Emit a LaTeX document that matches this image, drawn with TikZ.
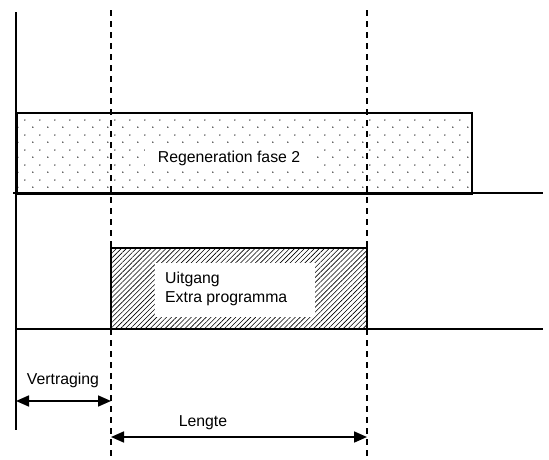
\documentclass[tikz,border=0pt]{standalone}
\usepackage{fontspec}
\setmainfont{Liberation Sans}
\usetikzlibrary{patterns.meta,arrows.meta}

\tikzdeclarepattern{
  name=sparsedots,
  type=uncolored,
  bounding box={(0pt,0pt) and (15pt,15pt)},
  tile size={(15pt,15pt)},
  code={
    \fill (3pt,3pt) circle (0.85pt);
    \fill (10.5pt,10.5pt) circle (0.85pt);
  }
}

\tikzset{
  axis/.style={line width=1.7pt},
  marker/.style={line width=1.3pt, dash pattern=on 6pt off 5pt},
  bar/.style={draw, line width=1.7pt, inner sep=0pt, anchor=north west},
  label/.style={font=\fontsize{15.8}{19}\selectfont, inner sep=2pt},
  span/.style={line width=1.7pt, {Triangle[length=13pt,width=11pt]}-{Triangle[length=13pt,width=11pt]}}
}

\begin{document}
\begin{tikzpicture}[x=1pt,y=-1pt]
        \useasboundingbox (0,0) rectangle (549,459);

        % upper signal
        \node (regen) [bar, pattern={sparsedots}, pattern color=black!80, minimum width=455pt, minimum height=81pt] at (16,112) {};
        \node (regentext) [label, fill=white, minimum width=168pt] at (229,158) {Regeneration fase 2};

        % lower signal
        \node (output) [bar, pattern={Lines[angle=45,distance=3.5pt,line width=0.6pt]}, minimum width=256pt, minimum height=81pt] at (111,248) {};
        \node (outputbox) [fill=white, inner sep=0pt, minimum width=160pt, minimum height=54pt] at (235,290) {};
        \node (outputtext) [label, align=left, anchor=west] at (163,289) {Uitgang\\Extra programma};

        % time markers
        \coordinate (startmark) at (111,10);
        \coordinate (startend) at (111,459);
        \coordinate (stopmark) at (367,10);
        \coordinate (stopend) at (367,459);
        \draw [marker] (startmark) -- (startend);
        \draw [marker] (stopmark) -- (stopend);

        % axes
        \coordinate (axistop) at (16,12);
        \coordinate (axisbottom) at (16,430);
        \coordinate (upperleft) at (13,193);
        \coordinate (upperright) at (543,193);
        \coordinate (lowerleft) at (16,329);
        \coordinate (lowerright) at (543,329);
        \draw [axis] (axistop) -- (axisbottom);
        \draw [axis] (upperleft) -- (upperright);
        \draw [axis] (lowerleft) -- (lowerright);

        % durations
        \coordinate (delaystart) at (16,401);
        \coordinate (delayend) at (111,401);
        \coordinate (lengthstart) at (111,437);
        \coordinate (lengthend) at (367,437);
        \draw [span] (delaystart) -- (delayend);
        \draw [span] (lengthstart) -- (lengthend);
        \node (delaytext) [label] at (63,380) {Vertraging};
        \node (lengthtext) [label] at (203,423) {Lengte};
    \end{tikzpicture}
\end{document}
